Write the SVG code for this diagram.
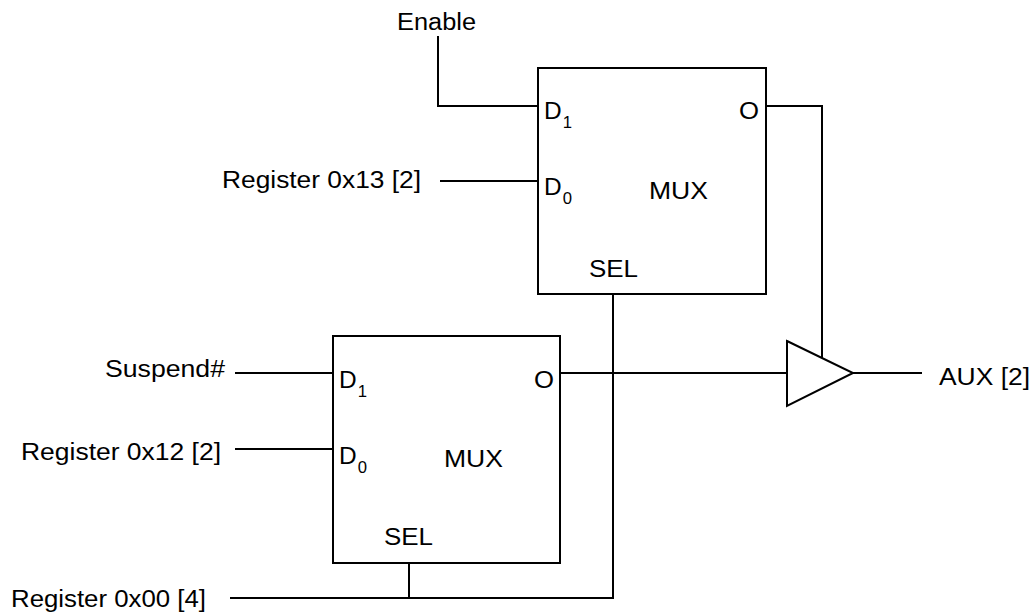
<svg xmlns="http://www.w3.org/2000/svg" width="1036" height="615" viewBox="0 0 1036 615">
<style>
  .box { fill: #fff; stroke: #000; stroke-width: 2; }
  .wire { fill: none; stroke: #000; stroke-width: 2; }
  text { font-family: "Liberation Sans", Arial, sans-serif; font-size: 23.5px; fill: #000; }
  .sub { font-size: 16px; }
</style>
<rect width="1036" height="615" fill="#fff"/>
<g id="connectors">
  <polyline class="wire" points="438,36 438,106 538,106"/>
  <line class="wire" x1="440" y1="181" x2="538" y2="181"/>
  <line class="wire" x1="235" y1="373" x2="333" y2="373"/>
  <line class="wire" x1="235" y1="449" x2="333" y2="449"/>
  <line class="wire" x1="230" y1="598" x2="614" y2="598"/>
  <line class="wire" x1="409" y1="563" x2="409" y2="598"/>
  <line class="wire" x1="613" y1="294" x2="613" y2="599"/>
  <line class="wire" x1="560" y1="373" x2="787" y2="373"/>
  <polyline class="wire" points="766,106 822,106 822,358"/>
  <line class="wire" x1="853" y1="373" x2="922" y2="373"/>
</g>
<g id="mux-top">
  <rect class="box" x="538" y="68" width="228" height="226"/>
  <text x="544" y="119" textLength="28" lengthAdjust="spacingAndGlyphs">D<tspan class="sub" dx="1" dy="9">1</tspan></text>
  <text x="544" y="195" textLength="28" lengthAdjust="spacingAndGlyphs">D<tspan class="sub" dx="1" dy="9">0</tspan></text>
  <text x="739" y="119" textLength="20" lengthAdjust="spacingAndGlyphs">O</text>
  <text x="649" y="199" textLength="59" lengthAdjust="spacingAndGlyphs">MUX</text>
  <text x="589" y="277" textLength="49" lengthAdjust="spacingAndGlyphs">SEL</text>
</g>
<g id="mux-bottom">
  <rect class="box" x="333" y="336" width="227" height="227"/>
  <text x="339" y="388" textLength="28" lengthAdjust="spacingAndGlyphs">D<tspan class="sub" dx="1" dy="9">1</tspan></text>
  <text x="339" y="464" textLength="28" lengthAdjust="spacingAndGlyphs">D<tspan class="sub" dx="1" dy="9">0</tspan></text>
  <text x="534" y="388" textLength="20" lengthAdjust="spacingAndGlyphs">O</text>
  <text x="444" y="467" textLength="59" lengthAdjust="spacingAndGlyphs">MUX</text>
  <text x="384" y="545" textLength="49" lengthAdjust="spacingAndGlyphs">SEL</text>
</g>
<g id="buffer">
  <polygon class="box" points="787,341 853,373 787,406"/>
</g>
<g id="labels">
  <text x="397" y="30" textLength="79" lengthAdjust="spacingAndGlyphs">Enable</text>
  <text x="222" y="188" textLength="199" lengthAdjust="spacingAndGlyphs">Register 0x13 [2]</text>
  <text x="105" y="377" textLength="120" lengthAdjust="spacingAndGlyphs">Suspend#</text>
  <text x="21" y="460" textLength="200" lengthAdjust="spacingAndGlyphs">Register 0x12 [2]</text>
  <text x="11" y="607" textLength="195" lengthAdjust="spacingAndGlyphs">Register 0x00 [4]</text>
  <text x="939" y="385" textLength="91" lengthAdjust="spacingAndGlyphs">AUX [2]</text>
</g>
</svg>
